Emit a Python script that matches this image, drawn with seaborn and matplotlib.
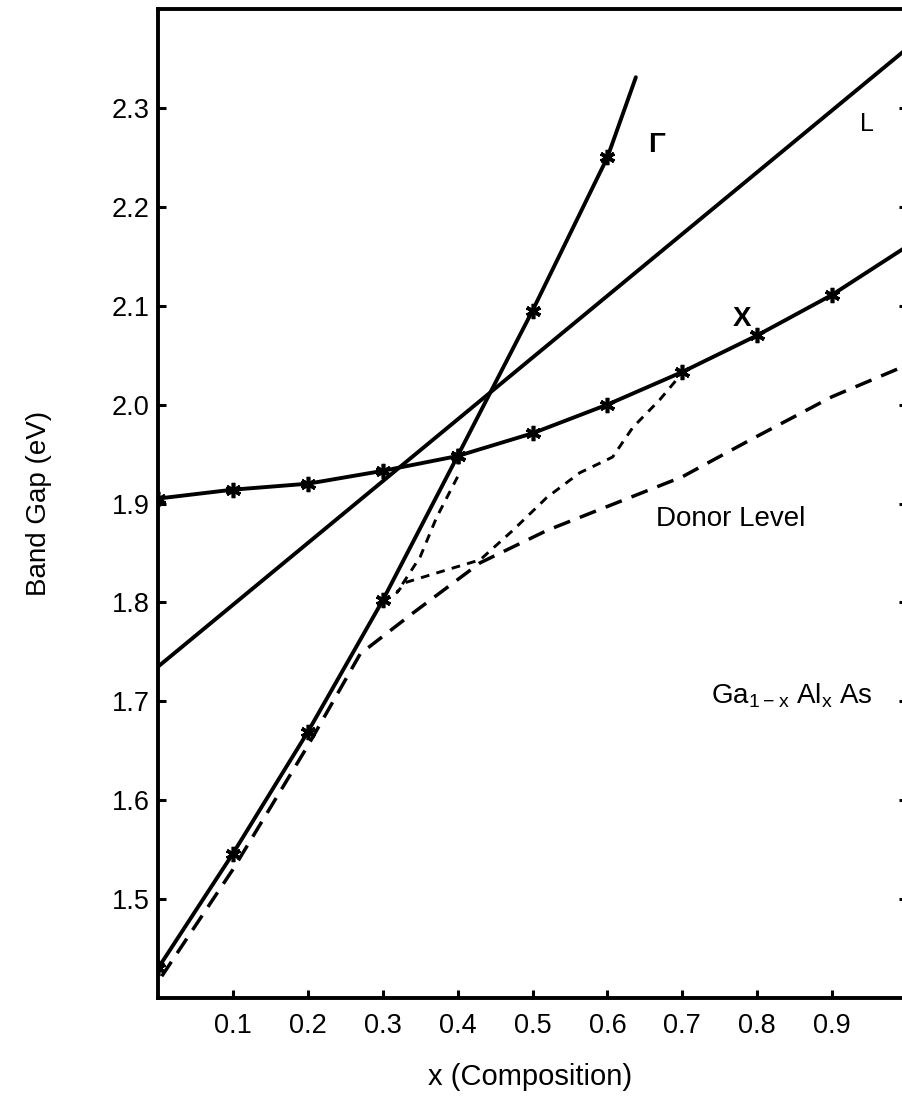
import numpy as np
import pandas as pd
import seaborn as sns
import matplotlib.pyplot as plt

# Band gaps of Ga(1-x)Al(x)As vs composition
x_marks = [0.0, 0.1, 0.2, 0.3, 0.4, 0.5, 0.6, 0.7, 0.8, 0.9]

gamma_x = [0.0, 0.1, 0.2, 0.3, 0.4, 0.5, 0.6, 0.638]
gamma_y = [1.430, 1.546, 1.669, 1.802, 1.948, 2.095, 2.250, 2.331]
gamma_marked = 7  # last point is the curve end, no marker

xband_x = [0.0, 0.1, 0.2, 0.3, 0.4, 0.5, 0.6, 0.7, 0.8, 0.9, 1.0]
xband_y = [1.905, 1.914, 1.920, 1.933, 1.948, 1.971, 2.000, 2.033, 2.070, 2.111, 2.160]
xband_marked = 10

l_x = [0.0, 1.0]
l_y = [1.735, 2.360]

# long-dashed donor level
donor_x = [0.005, 0.1, 0.2, 0.27, 0.34, 0.43, 0.52, 0.61, 0.70, 0.79, 0.90, 1.0]
donor_y = [1.422, 1.530, 1.655, 1.748, 1.789, 1.840, 1.873, 1.900, 1.927, 1.964, 2.008, 2.040]

# short-dashed branch
short_x = [0.400, 0.372, 0.350, 0.319, 0.330, 0.386, 0.430, 0.474, 0.519, 0.563, 0.607, 0.634, 0.670, 0.700]
short_y = [1.927, 1.886, 1.846, 1.810, 1.820, 1.833, 1.843, 1.873, 1.906, 1.931, 1.947, 1.977, 2.005, 2.032]

sns.set_style("ticks")
plt.rcParams['font.family'] = ['Liberation Sans', 'DejaVu Sans']
plt.rcParams['text.color'] = 'black'
plt.rcParams['axes.labelcolor'] = 'black'

fig = plt.figure(figsize=(9.02, 10.98), dpi=100)
ax = fig.add_axes([158 / 902, 100 / 1098, 749 / 902, 989 / 1098])

lw = 2.8
star = (6, 2, 0)

g_df = pd.DataFrame({"x": gamma_x, "y": gamma_y})
sns.lineplot(data=g_df, x="x", y="y", ax=ax, color="black", lw=lw, sort=False)
ax.plot(gamma_x[:gamma_marked], gamma_y[:gamma_marked], ls="none", marker=star,
        ms=11, mew=2.6, color="black")

x_df = pd.DataFrame({"x": xband_x, "y": xband_y})
sns.lineplot(data=x_df, x="x", y="y", ax=ax, color="black", lw=lw, sort=False)
ax.plot(xband_x[:xband_marked], xband_y[:xband_marked], ls="none", marker=star,
        ms=11, mew=2.6, color="black")

sns.lineplot(x=l_x, y=l_y, ax=ax, color="black", lw=lw)

d_df = pd.DataFrame({"x": donor_x, "y": donor_y})
sns.lineplot(data=d_df, x="x", y="y", ax=ax, color="black", lw=2.5, sort=False)
ax.lines[-1].set_dashes([5, 3])

s_df = pd.DataFrame({"x": short_x, "y": short_y})
sns.lineplot(data=s_df, x="x", y="y", ax=ax, color="black", lw=2.1, sort=False)
ax.lines[-1].set_dashes([3, 2.5])

ax.set_xlim(0, 1.0)
ax.set_ylim(1.4, 2.4)
ax.set_xticks(x_marks[1:])
ax.set_xticklabels([f"{v:.1f}" for v in x_marks[1:]])
ax.set_yticks([1.5, 1.6, 1.7, 1.8, 1.9, 2.0, 2.1, 2.2, 2.3])

for side in ["left", "bottom", "top", "right"]:
    ax.spines[side].set_linewidth(2.8)
    ax.spines[side].set_color("black")

ax.tick_params(axis="both", direction="in", length=6, width=2.2, labelsize=19.5,
               colors="black", right=True)
ax.tick_params(axis="x", pad=11)
ax.tick_params(axis="y", pad=6)

ax.set_xlabel("x (Composition)", fontsize=21)
ax.set_ylabel("Band Gap (eV)", fontsize=20)
ax.xaxis.set_label_coords(0.497, -0.066)
ax.yaxis.set_label_coords(-0.142, 0.5)

ax.text(0.666, 2.262, "Γ", fontsize=20, fontweight="bold", ha="center", va="center")
ax.text(0.947, 2.284, "L", fontsize=18, ha="center", va="center")
ax.text(0.780, 2.087, "X", fontsize=20, fontweight="bold", ha="center", va="center")
ax.text(0.764, 1.884, "Donor Level", fontsize=20, ha="center", va="center")
ax.text(0.846, 1.706, r"Ga$_{\mathregular{1-x}}$ Al$_{\mathregular{x}}$ As", fontsize=20,
        ha="center", va="center")

fig.savefig("out.png", dpi=100)
